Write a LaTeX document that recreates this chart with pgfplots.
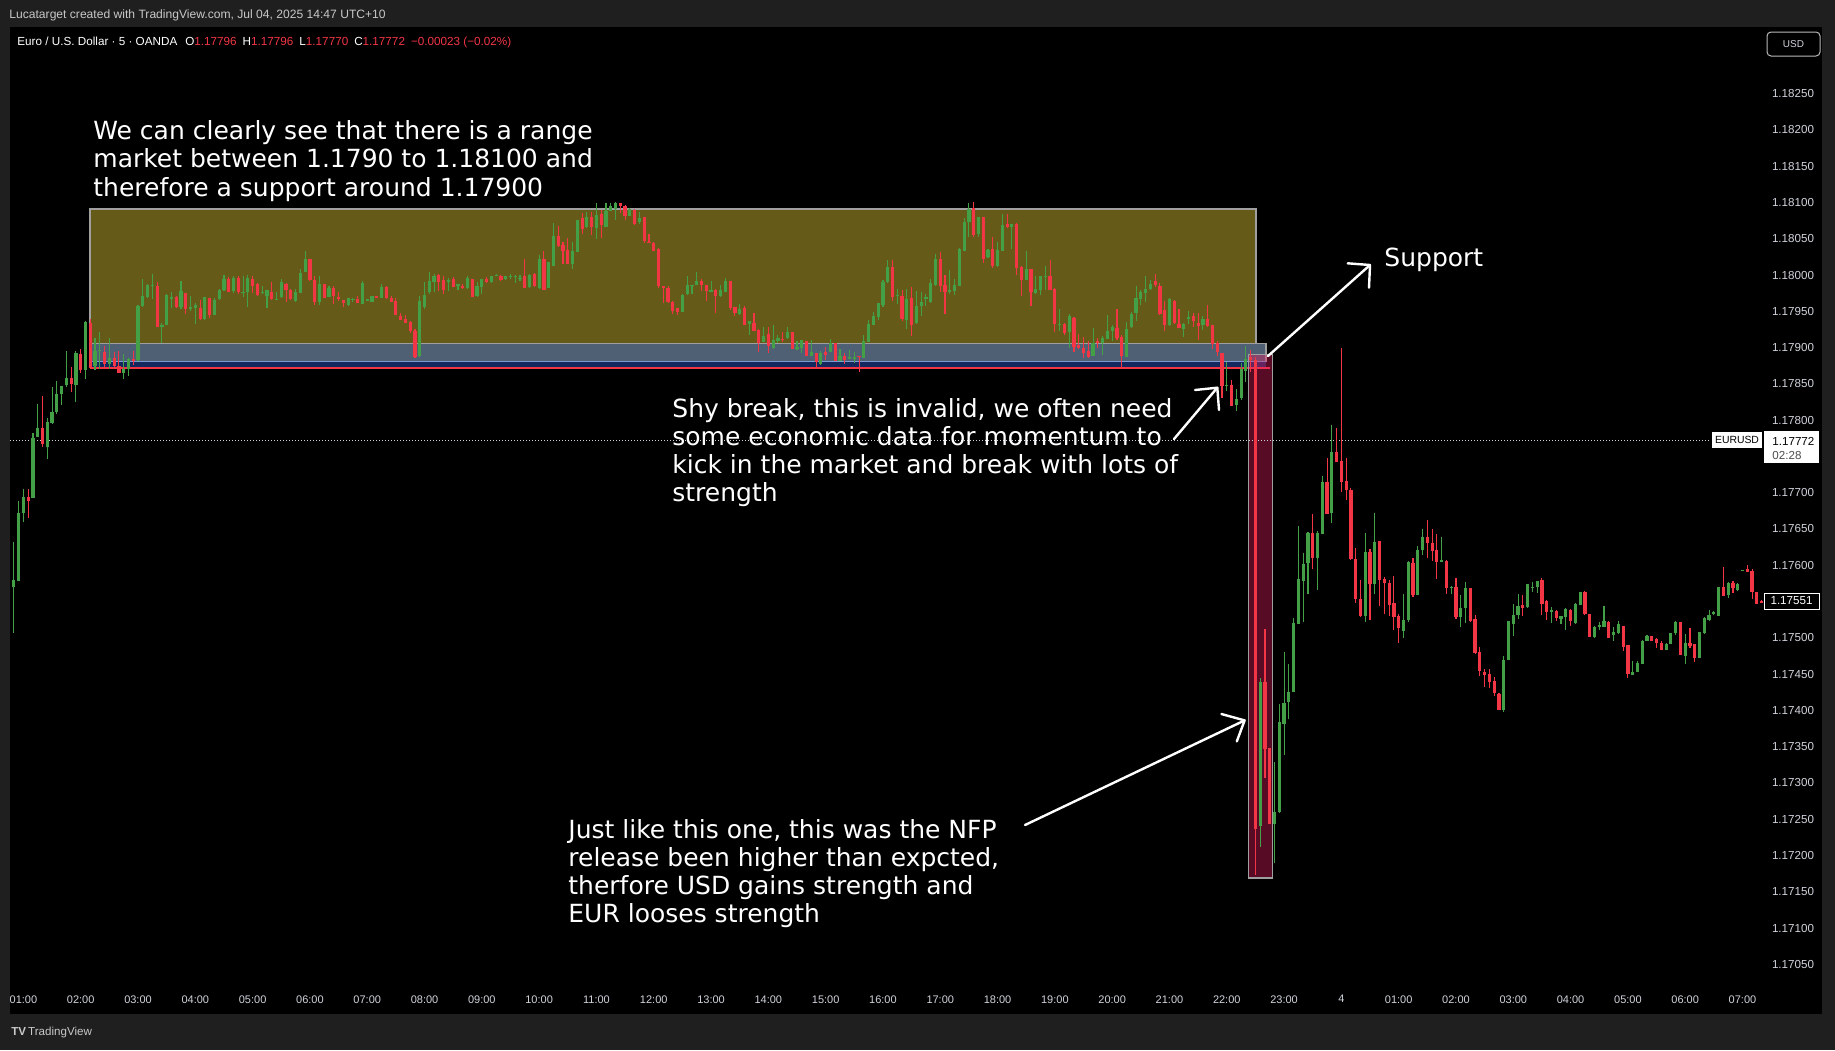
\documentclass[border=0pt]{standalone}
\usepackage{pgfplots}
\pgfplotsset{compat=1.18}
\usepackage{pgfplotstable}
\usepackage{fontspec}
\setmainfont{Liberation Sans}
\newfontfamily\annotfont{DejaVu Sans}
\definecolor{tvbg}{HTML}{1F1F1F}
\definecolor{tvtext}{HTML}{D1D4DC}
\definecolor{hdtext}{HTML}{C8C8C8}
\definecolor{cgreen}{HTML}{43A047}
\definecolor{cred}{HTML}{F23645}
\definecolor{zoneY}{HTML}{665A19}
\definecolor{zoneS}{HTML}{4F5F74}
\definecolor{zoneN}{HTML}{12285E}
\definecolor{zoneC}{HTML}{E91E63}
\definecolor{zoneB}{HTML}{7A9AD0}

\pgfplotstableread{
X o h l c
10 1.17571 1.17632 1.17506 1.17580
11 1.17579 1.17689 1.17579 1.17673
12 1.17672 1.17705 1.17660 1.17695
13 1.17695 1.17705 1.17666 1.17689
14 1.17693 1.17783 1.17693 1.17777
15 1.17777 1.17822 1.17777 1.17790
16 1.17790 1.17834 1.17764 1.17767
17 1.17763 1.17804 1.17748 1.17797
18 1.17797 1.17847 1.17797 1.17812
19 1.17812 1.17854 1.17809 1.17837
20 1.17837 1.17848 1.17823 1.17848
21 1.17849 1.17896 1.17846 1.17859
22 1.17859 1.17874 1.17840 1.17851
23 1.17849 1.17896 1.17826 1.17893
24 1.17892 1.17899 1.17866 1.17870
25 1.17870 1.17938 1.17858 1.17936
26 1.17936 1.17940 1.17871 1.17873
27 1.17876 1.17914 1.17870 1.17896
28 1.17896 1.17921 1.17871 1.17897
29 1.17896 1.17902 1.17871 1.17879
30 1.17879 1.17914 1.17871 1.17887
31 1.17887 1.17896 1.17873 1.17875
32 1.17875 1.17897 1.17866 1.17866
33 1.17866 1.17892 1.17858 1.17871
34 1.17871 1.17886 1.17861 1.17885
35 1.17885 1.17897 1.17878 1.17883
36 1.17883 1.17958 1.17882 1.17958
37 1.17958 1.17995 1.17956 1.17971
38 1.17971 1.17988 1.17970 1.17987
39 1.17986 1.18002 1.17967 1.17987
40 1.17986 1.17990 1.17930 1.17930
41 1.17930 1.17934 1.17906 1.17933
42 1.17932 1.17975 1.17932 1.17973
43 1.17969 1.17978 1.17956 1.17970
44 1.17970 1.17972 1.17956 1.17957
45 1.17957 1.17992 1.17953 1.17978
46 1.17976 1.17976 1.17947 1.17954
47 1.17955 1.17972 1.17951 1.17956
48 1.17955 1.17962 1.17934 1.17959
49 1.17955 1.17967 1.17939 1.17940
50 1.17940 1.17970 1.17939 1.17970
51 1.17970 1.17970 1.17942 1.17946
52 1.17946 1.17968 1.17945 1.17967
53 1.17968 1.17981 1.17966 1.17981
54 1.17980 1.18000 1.17979 1.17996
55 1.17996 1.17998 1.17977 1.17978
56 1.17978 1.18000 1.17977 1.17997
57 1.17996 1.17999 1.17975 1.17976
58 1.17976 1.17998 1.17970 1.17977
59 1.17976 1.18000 1.17956 1.17996
60 1.17996 1.18000 1.17976 1.17986
61 1.17987 1.17988 1.17971 1.17972
62 1.17977 1.17986 1.17975 1.17976
63 1.17972 1.17980 1.17955 1.17980
64 1.17977 1.17990 1.17966 1.17967
65 1.17968 1.17977 1.17967 1.17969
66 1.17969 1.17994 1.17968 1.17990
67 1.17989 1.17990 1.17963 1.17981
68 1.17981 1.17982 1.17967 1.17968
69 1.17965 1.17981 1.17964 1.17978
70 1.17976 1.18008 1.17976 1.18004
71 1.18004 1.18033 1.18004 1.18023
72 1.18023 1.18023 1.17992 1.17994
73 1.17994 1.17998 1.17958 1.17964
74 1.17964 1.17998 1.17958 1.17988
75 1.17987 1.17988 1.17968 1.17969
76 1.17971 1.17986 1.17971 1.17984
77 1.17983 1.17986 1.17961 1.17972
78 1.17971 1.17977 1.17964 1.17969
79 1.17965 1.17967 1.17958 1.17961
80 1.17959 1.17970 1.17958 1.17969
81 1.17969 1.17970 1.17964 1.17968
82 1.17968 1.17971 1.17961 1.17963
83 1.17961 1.17992 1.17961 1.17990
84 1.17966 1.17967 1.17966 1.17967
85 1.17964 1.17972 1.17964 1.17972
86 1.17972 1.17972 1.17969 1.17969
87 1.17969 1.17989 1.17969 1.17985
88 1.17985 1.17986 1.17969 1.17969
89 1.17970 1.17972 1.17964 1.17964
90 1.17965 1.17968 1.17945 1.17946
91 1.17944 1.17948 1.17938 1.17939
92 1.17941 1.17946 1.17935 1.17935
93 1.17936 1.17937 1.17921 1.17923
94 1.17923 1.17925 1.17885 1.17887
95 1.17889 1.17972 1.17889 1.17965
96 1.17957 1.17992 1.17954 1.17974
97 1.17976 1.18004 1.17975 1.17992
98 1.17992 1.18003 1.17977 1.18000
99 1.18001 1.18003 1.17979 1.17991
100 1.17992 1.17998 1.17974 1.17979
101 1.17991 1.17998 1.17979 1.17994
102 1.17995 1.17998 1.17984 1.17985
103 1.17984 1.17989 1.17981 1.17987
104 1.17986 1.17988 1.17981 1.17984
105 1.17983 1.18000 1.17982 1.17997
106 1.17995 1.17996 1.17971 1.17971
107 1.17971 1.17991 1.17970 1.17985
108 1.17985 1.17995 1.17975 1.17995
109 1.17995 1.17999 1.17990 1.17991
110 1.17991 1.17999 1.17990 1.17999
111 1.17999 1.18002 1.17998 1.18000
112 1.18000 1.18001 1.17992 1.17995
113 1.17995 1.18000 1.17995 1.17999
114 1.17998 1.18002 1.17995 1.18000
115 1.17998 1.18001 1.17990 1.17999
116 1.17997 1.18001 1.17993 1.17998
117 1.17999 1.18023 1.17982 1.17982
118 1.17984 1.18003 1.17983 1.18000
119 1.18002 1.18004 1.17985 1.17986
120 1.17984 1.18027 1.17981 1.18023
121 1.18023 1.18033 1.17981 1.17981
122 1.17981 1.18018 1.17981 1.18018
123 1.18013 1.18072 1.18013 1.18055
124 1.18054 1.18068 1.18039 1.18041
125 1.18043 1.18045 1.18015 1.18034
126 1.18036 1.18051 1.18016 1.18017
127 1.18016 1.18046 1.18009 1.18033
128 1.18033 1.18078 1.18033 1.18078
129 1.18079 1.18086 1.18056 1.18065
130 1.18065 1.18087 1.18065 1.18080
131 1.18080 1.18088 1.18056 1.18065
132 1.18065 1.18100 1.18050 1.18083
133 1.18084 1.18089 1.18050 1.18069
134 1.18067 1.18100 1.18067 1.18090
135 1.18090 1.18100 1.18089 1.18097
136 1.18092 1.18100 1.18076 1.18100
137 1.18100 1.18100 1.18087 1.18096
138 1.18096 1.18098 1.18077 1.18082
139 1.18083 1.18093 1.18083 1.18092
140 1.18091 1.18092 1.18069 1.18072
141 1.18073 1.18088 1.18072 1.18079
142 1.18080 1.18080 1.18045 1.18047
143 1.18047 1.18056 1.18044 1.18045
144 1.18045 1.18046 1.18033 1.18034
145 1.18036 1.18038 1.17983 1.17985
146 1.17985 1.17986 1.17962 1.17984
147 1.17982 1.17985 1.17962 1.17963
148 1.17964 1.17964 1.17946 1.17952
149 1.17955 1.17956 1.17947 1.17950
150 1.17951 1.17974 1.17949 1.17974
151 1.17974 1.18000 1.17974 1.17987
152 1.17986 1.17987 1.17974 1.17987
153 1.17987 1.18004 1.17986 1.17992
154 1.17992 1.17994 1.17978 1.17986
155 1.17987 1.17987 1.17965 1.17978
156 1.17977 1.17992 1.17977 1.17981
157 1.17980 1.17981 1.17948 1.17972
158 1.17971 1.17987 1.17971 1.17979
159 1.17977 1.17996 1.17976 1.17992
160 1.17992 1.17992 1.17952 1.17955
161 1.17956 1.17957 1.17945 1.17948
162 1.17947 1.17962 1.17947 1.17954
163 1.17955 1.17958 1.17931 1.17932
164 1.17932 1.17936 1.17918 1.17936
165 1.17936 1.17948 1.17924 1.17925
166 1.17925 1.17926 1.17894 1.17907
167 1.17909 1.17930 1.17908 1.17918
168 1.17918 1.17929 1.17893 1.17901
169 1.17900 1.17932 1.17899 1.17911
170 1.17909 1.17919 1.17908 1.17914
171 1.17914 1.17923 1.17909 1.17913
172 1.17913 1.17928 1.17912 1.17921
173 1.17922 1.17922 1.17898 1.17899
174 1.17899 1.17911 1.17898 1.17902
175 1.17901 1.17911 1.17893 1.17911
176 1.17909 1.17910 1.17889 1.17889
177 1.17889 1.17910 1.17888 1.17895
178 1.17893 1.17894 1.17875 1.17880
179 1.17879 1.17897 1.17878 1.17893
180 1.17896 1.17902 1.17884 1.17891
181 1.17895 1.17914 1.17895 1.17907
182 1.17907 1.17908 1.17882 1.17883
183 1.17883 1.17899 1.17882 1.17889
184 1.17890 1.17893 1.17879 1.17885
185 1.17887 1.17897 1.17885 1.17888
186 1.17887 1.17895 1.17880 1.17888
187 1.17889 1.17889 1.17868 1.17888
188 1.17887 1.17918 1.17887 1.17910
189 1.17909 1.17938 1.17908 1.17933
190 1.17932 1.17950 1.17931 1.17944
191 1.17942 1.17963 1.17940 1.17962
192 1.17960 1.17994 1.17957 1.17992
193 1.17991 1.18022 1.17991 1.18012
194 1.18012 1.18021 1.17964 1.17971
195 1.17971 1.17981 1.17960 1.17973
196 1.17972 1.17981 1.17938 1.17940
197 1.17940 1.17981 1.17926 1.17969
198 1.17970 1.17984 1.17917 1.17933
199 1.17935 1.17978 1.17933 1.17958
200 1.17958 1.17977 1.17945 1.17964
201 1.17968 1.17975 1.17958 1.17970
202 1.17964 1.17995 1.17963 1.17991
203 1.17987 1.18030 1.17986 1.18023
204 1.18023 1.18032 1.17977 1.17986
205 1.17987 1.18000 1.17947 1.17977
206 1.17977 1.18008 1.17975 1.17979
207 1.17979 1.17995 1.17973 1.17988
208 1.17987 1.18039 1.17986 1.18038
209 1.18034 1.18079 1.18034 1.18074
210 1.18074 1.18099 1.18053 1.18092
211 1.18093 1.18100 1.18052 1.18055
212 1.18056 1.18081 1.18053 1.18080
213 1.18080 1.18080 1.18017 1.18023
214 1.18025 1.18037 1.18024 1.18035
215 1.18037 1.18053 1.18010 1.18013
216 1.18013 1.18046 1.18011 1.18035
217 1.18034 1.18084 1.18034 1.18070
218 1.18071 1.18084 1.18065 1.18066
219 1.18066 1.18071 1.18037 1.18071
220 1.18071 1.18072 1.18000 1.18011
221 1.18012 1.18014 1.17972 1.17994
222 1.17994 1.18033 1.17993 1.18009
223 1.18008 1.18008 1.17959 1.17976
224 1.17975 1.17998 1.17974 1.17981
225 1.17979 1.17999 1.17973 1.17999
226 1.17998 1.18014 1.17980 1.17999
227 1.17999 1.18021 1.17979 1.17980
228 1.17981 1.17982 1.17922 1.17933
229 1.17933 1.17954 1.17924 1.17934
230 1.17934 1.17935 1.17919 1.17921
231 1.17922 1.17946 1.17900 1.17944
232 1.17942 1.17943 1.17896 1.17902
233 1.17904 1.17919 1.17898 1.17900
234 1.17900 1.17915 1.17887 1.17894
235 1.17896 1.17910 1.17886 1.17887
236 1.17889 1.17928 1.17889 1.17907
237 1.17909 1.17914 1.17900 1.17908
238 1.17906 1.17917 1.17890 1.17913
239 1.17913 1.17945 1.17912 1.17924
240 1.17923 1.17931 1.17910 1.17929
241 1.17927 1.17954 1.17912 1.17913
242 1.17915 1.17918 1.17872 1.17889
243 1.17887 1.17936 1.17887 1.17926
244 1.17929 1.17949 1.17928 1.17947
245 1.17949 1.17986 1.17937 1.17969
246 1.17968 1.17980 1.17958 1.17978
247 1.17975 1.17999 1.17963 1.17981
248 1.17981 1.17993 1.17980 1.17987
249 1.17992 1.18002 1.17984 1.17986
250 1.17986 1.17991 1.17946 1.17947
251 1.17952 1.17966 1.17925 1.17931
252 1.17931 1.17969 1.17930 1.17968
253 1.17965 1.17966 1.17934 1.17935
254 1.17935 1.17953 1.17928 1.17929
255 1.17927 1.17935 1.17916 1.17934
256 1.17942 1.17951 1.17933 1.17943
257 1.17944 1.17949 1.17929 1.17936
258 1.17936 1.17949 1.17912 1.17931
259 1.17931 1.17944 1.17924 1.17940
260 1.17941 1.17959 1.17929 1.17931
261 1.17932 1.17932 1.17899 1.17906
262 1.17907 1.17910 1.17889 1.17895
263 1.17893 1.17894 1.17832 1.17847
264 1.17849 1.17880 1.17841 1.17850
265 1.17850 1.17856 1.17821 1.17821
266 1.17823 1.17844 1.17814 1.17830
267 1.17830 1.17879 1.17828 1.17870
268 1.17869 1.17903 1.17853 1.17885
269 1.17887 1.17898 1.17868 1.17883
270 1.17884 1.17887 1.17174 1.17238
271 1.17241 1.17446 1.17212 1.17440
272 1.17440 1.17512 1.17307 1.17347
273 1.17348 1.17348 1.17244 1.17244
274 1.17245 1.17330 1.17191 1.17261
275 1.17260 1.17410 1.17260 1.17384
276 1.17382 1.17480 1.17338 1.17411
277 1.17411 1.17465 1.17389 1.17425
278 1.17425 1.17527 1.17425 1.17521
279 1.17520 1.17655 1.17520 1.17583
280 1.17579 1.17617 1.17522 1.17602
281 1.17603 1.17646 1.17561 1.17645
282 1.17645 1.17672 1.17597 1.17611
283 1.17611 1.17649 1.17568 1.17645
284 1.17644 1.17723 1.17644 1.17715
285 1.17716 1.17748 1.17672 1.17672
286 1.17672 1.17795 1.17660 1.17757
287 1.17757 1.17790 1.17744 1.17744
288 1.17744 1.17899 1.17701 1.17715
289 1.17717 1.17748 1.17690 1.17704
290 1.17704 1.17708 1.17609 1.17609
291 1.17610 1.17624 1.17549 1.17555
292 1.17554 1.17580 1.17528 1.17530
293 1.17530 1.17645 1.17522 1.17619
294 1.17619 1.17624 1.17526 1.17575
295 1.17575 1.17672 1.17561 1.17633
296 1.17633 1.17634 1.17544 1.17579
297 1.17582 1.17584 1.17533 1.17577
298 1.17576 1.17581 1.17531 1.17546
299 1.17549 1.17586 1.17511 1.17530
300 1.17531 1.17533 1.17494 1.17514
301 1.17511 1.17560 1.17500 1.17526
302 1.17525 1.17607 1.17523 1.17605
303 1.17605 1.17611 1.17557 1.17560
304 1.17560 1.17628 1.17560 1.17622
305 1.17622 1.17651 1.17614 1.17640
306 1.17640 1.17663 1.17611 1.17631
307 1.17632 1.17651 1.17606 1.17621
308 1.17622 1.17644 1.17582 1.17605
309 1.17605 1.17640 1.17605 1.17607
310 1.17607 1.17608 1.17561 1.17569
311 1.17571 1.17571 1.17561 1.17570
312 1.17571 1.17583 1.17526 1.17530
313 1.17530 1.17559 1.17515 1.17543
314 1.17542 1.17579 1.17522 1.17569
315 1.17569 1.17569 1.17523 1.17524
316 1.17526 1.17533 1.17479 1.17479
317 1.17481 1.17487 1.17447 1.17455
318 1.17455 1.17458 1.17433 1.17450
319 1.17450 1.17458 1.17432 1.17439
320 1.17440 1.17447 1.17421 1.17424
321 1.17424 1.17424 1.17401 1.17402
322 1.17401 1.17476 1.17399 1.17469
323 1.17470 1.17524 1.17470 1.17523
324 1.17520 1.17548 1.17504 1.17532
325 1.17533 1.17561 1.17527 1.17546
326 1.17546 1.17560 1.17531 1.17542
327 1.17543 1.17576 1.17543 1.17575
328 1.17570 1.17577 1.17564 1.17571
329 1.17570 1.17579 1.17563 1.17578
330 1.17580 1.17583 1.17533 1.17546
331 1.17552 1.17553 1.17526 1.17536
332 1.17536 1.17542 1.17520 1.17539
333 1.17538 1.17539 1.17524 1.17529
334 1.17526 1.17531 1.17520 1.17530
335 1.17529 1.17542 1.17512 1.17540
336 1.17539 1.17541 1.17517 1.17523
337 1.17522 1.17549 1.17520 1.17548
338 1.17546 1.17564 1.17546 1.17564
339 1.17564 1.17565 1.17532 1.17533
340 1.17533 1.17533 1.17502 1.17502
341 1.17502 1.17517 1.17500 1.17515
342 1.17515 1.17522 1.17511 1.17517
343 1.17516 1.17545 1.17516 1.17523
344 1.17523 1.17523 1.17500 1.17501
345 1.17505 1.17515 1.17496 1.17508
346 1.17507 1.17523 1.17506 1.17520
347 1.17517 1.17517 1.17482 1.17489
348 1.17490 1.17490 1.17445 1.17450
349 1.17450 1.17469 1.17450 1.17454
350 1.17454 1.17469 1.17454 1.17467
351 1.17465 1.17498 1.17465 1.17497
352 1.17497 1.17505 1.17496 1.17503
353 1.17503 1.17503 1.17496 1.17497
354 1.17499 1.17500 1.17486 1.17493
355 1.17493 1.17496 1.17484 1.17484
356 1.17484 1.17494 1.17483 1.17492
357 1.17493 1.17508 1.17492 1.17507
358 1.17507 1.17525 1.17506 1.17522
359 1.17522 1.17522 1.17476 1.17476
360 1.17475 1.17506 1.17465 1.17493
361 1.17495 1.17514 1.17487 1.17490
362 1.17492 1.17493 1.17467 1.17472
363 1.17472 1.17509 1.17472 1.17509
364 1.17507 1.17530 1.17507 1.17529
365 1.17525 1.17539 1.17524 1.17532
366 1.17533 1.17537 1.17532 1.17535
367 1.17532 1.17571 1.17531 1.17571
368 1.17571 1.17598 1.17558 1.17559
369 1.17559 1.17577 1.17556 1.17576
370 1.17576 1.17579 1.17562 1.17569
371 1.17567 1.17576 1.17566 1.17574
372 1.17594 1.17595 1.17594 1.17595
373 1.17596 1.17601 1.17592 1.17592
374 1.17593 1.17595 1.17553 1.17564
375 1.17564 1.17564 1.17548 1.17548
376 1.17552 1.17553 1.17550 1.17551
}\candles

\pgfplotsset{
  candle/.style={only marks, mark=*, mark size=0pt, mark options={draw=none, fill=none}, forget plot},
}

\begin{document}
\begin{tikzpicture}
\begin{scope}[x=0.5pt,y=-0.5pt]
  \fill[tvbg] (0,0) rectangle (1835,1050);
  \fill[black] (10,27) rectangle (1822,1014);
\end{scope}
\begin{axis}[
  at={(5pt,-15pt)}, anchor=north west, scale only axis,
  width=877.7pt, height=478.5pt,
  xmin=9.19, xmax=376.8, ymin=1.170187, ymax=1.183377,
  axis line style={draw=none}, tick style={draw=none},
  major tick length=0pt,
  scaled y ticks=false,
  xtick={12,24,...,372},
  xticklabels={01:00,02:00,03:00,04:00,05:00,06:00,07:00,08:00,09:00,10:00,11:00,12:00,13:00,14:00,15:00,16:00,17:00,18:00,19:00,20:00,21:00,22:00,23:00,4,01:00,02:00,03:00,04:00,05:00,06:00,07:00},
  ytick={1.1705,1.171,1.1715,1.172,1.1725,1.173,1.1735,1.174,1.1745,1.175,1.176,1.1765,1.177,1.178,1.1785,1.179,1.1795,1.18,1.1805,1.181,1.1815,1.182,1.1825},
  yticklabel pos=right,
  /pgf/number format/assume math mode=true,
  y tick label style={/pgf/number format/fixed, /pgf/number format/fixed zerofill, /pgf/number format/precision=5, anchor=west, xshift=3.1pt, inner sep=0pt, font=\fontsize{5.8pt}{7pt}\selectfont, text=tvtext},
  x tick label style={anchor=north, yshift=-4pt, inner sep=0pt, font=\fontsize{5.5pt}{7pt}\selectfont, text=tvtext},
]
  % zones
  \fill[zoneY] (axis cs:25.94,1.17906) rectangle (axis cs:270.1,1.18091);
  \draw[gray!75, line width=0.6pt] (axis cs:25.94,1.17906) rectangle (axis cs:270.1,1.18091);
  \fill[zoneS] (axis cs:25.94,1.17881) rectangle (axis cs:272.2,1.17906);
  \fill[zoneN] (axis cs:25.94,1.17873) rectangle (axis cs:272.2,1.17880);
  \draw[gray!75, line width=0.6pt] (axis cs:25.94,1.17881) rectangle (axis cs:272.2,1.17906);
  \draw[zoneB, line width=0.6pt] (axis cs:25.94,1.17881) -- (axis cs:272.2,1.17881);
  \draw[cred, line width=0.8pt] (axis cs:25.94,1.17872) -- (axis cs:273.1,1.17872);
  \fill[zoneC, opacity=0.38] (axis cs:268.5,1.17169) rectangle (axis cs:273.5,1.17890);
  \draw[gray!75, line width=0.6pt] (axis cs:268.5,1.17169) rectangle (axis cs:273.5,1.17890);
  % last price dotted line
  \draw[tvtext, line width=0.5pt, dash pattern=on 0.5pt off 1pt] (axis cs:9.19,1.17772) -- (axis cs:365.4,1.17772);
  % wicks
  \addplot[candle,
    restrict expr to domain={\thisrow{c}>=\thisrow{o}}{0.5:1.5},
    error bars/.cd, y dir=both, y explicit, error mark=none,
    error bar style={line width=0.55pt, cgreen}]
    table[x=X, y expr={(\thisrow{h}+\thisrow{l})/2}, y error expr={(\thisrow{h}-\thisrow{l})/2}]{\candles};
  \addplot[candle,
    restrict expr to domain={\thisrow{c}>=\thisrow{o}}{-0.5:0.5},
    error bars/.cd, y dir=both, y explicit, error mark=none,
    error bar style={line width=0.55pt, cred}]
    table[x=X, y expr={(\thisrow{h}+\thisrow{l})/2}, y error expr={(\thisrow{h}-\thisrow{l})/2}]{\candles};
  % bodies
  \addplot[candle,
    restrict expr to domain={\thisrow{c}>=\thisrow{o}}{0.5:1.5},
    error bars/.cd, y dir=both, y explicit, error mark=none,
    error bar style={line width=1.6pt, cgreen}]
    table[x=X, y expr={(\thisrow{o}+\thisrow{c})/2}, y error expr={abs(\thisrow{c}-\thisrow{o})/2}]{\candles};
  \addplot[candle,
    restrict expr to domain={\thisrow{c}>=\thisrow{o}}{-0.5:0.5},
    error bars/.cd, y dir=both, y explicit, error mark=none,
    error bar style={line width=1.6pt, cred}]
    table[x=X, y expr={(\thisrow{o}+\thisrow{c})/2}, y error expr={abs(\thisrow{c}-\thisrow{o})/2}]{\candles};
\end{axis}
\begin{scope}[x=0.5pt,y=-0.5pt]
  % header
  \node[anchor=base west, inner sep=0, text=hdtext, font=\fontsize{6.05pt}{7pt}\selectfont] at (9,18.5) {Lucatarget created with TradingView.com, Jul 04, 2025 14:47 UTC+10};
  \node[anchor=base west, inner sep=0, text=white, font=\fontsize{5.85pt}{7pt}\selectfont] at (17,45) {Euro / U.S. Dollar · 5 · OANDA\hspace{4pt}O\textcolor{cred}{1.17796}\hspace{3pt}H\textcolor{cred}{1.17796}\hspace{3pt}L\textcolor{cred}{1.17770}\hspace{3pt}C\textcolor{cred}{1.17772}\hspace{3pt}\textcolor{cred}{−0.00023 (−0.02\%)}};
  % USD button
  \draw[draw=gray!55, fill=black, rounded corners=2pt, line width=0.5pt] (1767,32) rectangle (1820,56);
  \node[text=tvtext, font=\fontsize{5pt}{6pt}\selectfont, inner sep=0] at (1793.5,44) {USD};
  % price labels
  \fill[white] (1712,432) rectangle (1762,448);
  \node[text=black, font=\fontsize{5.2pt}{6pt}\selectfont, inner sep=0] at (1737,440) {EURUSD};
  \fill[white] (1764,431) rectangle (1819,463);
  \node[anchor=base west, text=black, font=\fontsize{5.8pt}{7pt}\selectfont, inner sep=0] at (1772,445) {1.17772};
  \node[anchor=base west, text=black!70, font=\fontsize{5.8pt}{7pt}\selectfont, inner sep=0] at (1772,459) {02:28};
  \draw[white, fill=black, line width=0.5pt] (1764,593) rectangle (1819,609);
  \node[text=white, font=\fontsize{5.8pt}{7pt}\selectfont, inner sep=0] at (1791.5,601) {1.17551};
  % footer
  \node[anchor=base west, inner sep=0, text=hdtext, font=\fontsize{5.8pt}{7pt}\selectfont] at (11,1035) {\textbf{TV}\,TradingView};
  % annotations
  \begin{scope}[every node/.style={anchor=base west, inner sep=0, text=white, font=\annotfont\fontsize{12.5pt}{14pt}\selectfont}]
    \node at (93,139.5) {We can clearly see that there is a range};
    \node at (93,167.8) {market between 1.1790 to 1.18100 and};
    \node at (93,196) {therefore a support around 1.17900};
    \node at (1384,266) {Support};
    \node at (672,417) {Shy break, this is invalid, we often need};
    \node at (672,445) {some economic data for momentum to};
    \node at (672,473) {kick in the market and break with lots of};
    \node at (672,501) {strength};
    \node at (568,838) {Just like this one, this was the NFP};
    \node at (568,866) {release been higher than expcted,};
    \node at (568,894) {therfore USD gains strength and};
    \node at (568,922) {EUR looses strength};
  \end{scope}
  % arrows
  \begin{scope}[white, line width=1.2pt, line cap=round, line join=round]
    \draw (1268,356) -- (1370,265);
    \draw (1347.7,263.3) -- (1370,265) -- (1369,287.7);
    \draw (1174,439) -- (1217.3,387.7);
    \draw (1195,390) -- (1217.3,387.7) -- (1219,410);
    \draw (1025,825) -- (1244.6,720.4);
    \draw (1221.4,714) -- (1244.6,720.4) -- (1236.8,741.4);
  \end{scope}
  \pgfresetboundingbox
  \path[use as bounding box] (0,0) rectangle (1835,1050);
\end{scope}
\end{tikzpicture}
\end{document}
